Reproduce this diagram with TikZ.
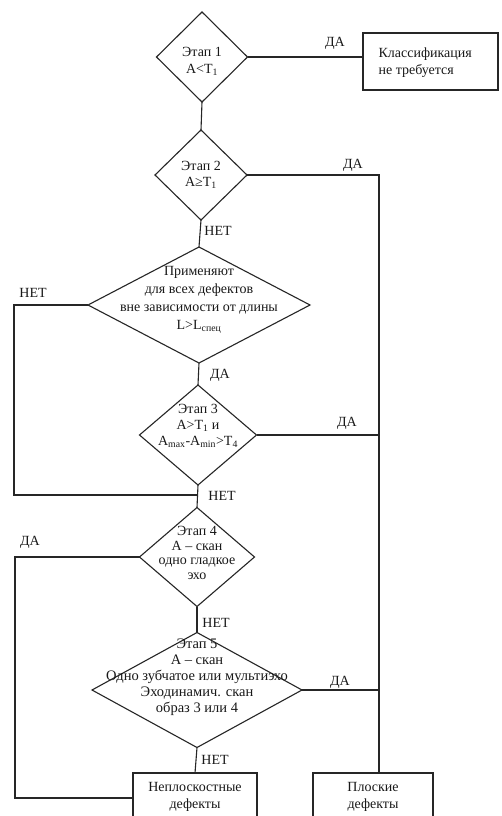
\documentclass[tikz,border=0pt]{standalone}
\usepackage{fontspec}
\setmainfont{Liberation Serif}
\usetikzlibrary{shapes.geometric}
\begin{document}
\begin{tikzpicture}[x=1pt,y=-1pt, line width=1.1pt, draw=black!85,
  dia/.style={draw, shape=diamond, inner sep=0pt, outer sep=0pt},
  box/.style={draw, rectangle, inner sep=0pt, outer sep=0pt},
  txt/.style={align=center, font=\fontsize{14}{16}\selectfont, inner sep=0pt, text=black!90},
  lbl/.style={font=\fontsize{14}{16}\selectfont, inner sep=0pt, text=black!90}]
\fill[white] (0,0) rectangle (501,816);
\clip (0,0) rectangle (501,816);
% decision diamonds
\node[dia, minimum width=91pt, minimum height=90pt] (d1) at (202,57) {};
\node[dia, minimum width=92pt, minimum height=90pt] (d2) at (201,175) {};
\node[dia, minimum width=222pt, minimum height=116pt] (d3) at (199,305) {};
\node[dia, minimum width=117pt, minimum height=100pt] (d4) at (198,435) {};
\node[dia, minimum width=115pt, minimum height=99pt] (d5) at (197,557) {};
\node[dia, minimum width=210pt, minimum height=115pt] (d6) at (197,690) {};
% boxes
\node[box, minimum width=135pt, minimum height=57pt] (b1) at (430.5,61.5) {};
\node[box, minimum width=124pt, minimum height=70pt] (bn) at (195,808) {};
\node[box, minimum width=120pt, minimum height=70pt] (bp) at (373,808) {};
% texts
\node[txt, font=\fontsize{14}{17}\selectfont] (t1) at (202,61) {Этап 1\\A<T\textsubscript{1}};
\node[txt, font=\fontsize{14}{16}\selectfont] (t2) at (201,175) {Этап 2\\A≥T\textsubscript{1}};
\node[txt, font=\fontsize{14}{18}\selectfont] (t3) at (199,300) {Применяют\\для всех дефектов\\вне зависимости от длины\\L>L\textsubscript{спец}};
\node[txt, font=\fontsize{14}{16}\selectfont] (t4) at (198,426) {Этап 3\\A>T\textsubscript{1} и\\A\textsubscript{max}-A\textsubscript{min}>T\textsubscript{4}};
\node[txt, font=\fontsize{14}{14.5}\selectfont] (t5) at (197,553) {Этап 4\\A – скан\\одно гладкое\\эхо};
\node[txt, font=\fontsize{14.5}{16}\selectfont] (t6) at (197,677) {Этап 5\\A – скан\\Одно зубчатое или мультиэхо\\Эходинамич. скан\\образ 3 или 4};
\node[txt, align=left, anchor=west, font=\fontsize{14}{17}\selectfont] (tb1) at (378,63) {Классификация\\не требуется};
\node[txt, font=\fontsize{14}{17}\selectfont] (tbn) at (195,797) {Неплоскостные\\дефекты};
\node[txt, font=\fontsize{14}{17}\selectfont] (tbp) at (373,797) {Плоские\\дефекты};
% junction coordinates
\coordinate (rc) at (379,175);
\coordinate (l1) at (14,305);
\coordinate (l2) at (14,495);
\coordinate (j1) at (198,495);
\coordinate (l3) at (15,557);
\coordinate (l4) at (15,798);
% connectors
\draw (d1.east) -- (d1.east -| b1.west);
\draw (d1.south) -- (d2.north);
\draw (d2.east) -- (rc) -- (rc |- bp.north);
\draw (d2.south) -- (d3.north);
\draw (d3.west) -- (l1) -- (l2) -- (j1);
\draw (d3.south) -- (d4.north);
\draw (d4.east) -- (d4.east -| rc);
\draw (d4.south) -- (d5.north);
\draw (d5.west) -- (l3) -- (l4) -- (l4 -| bn.west);
\draw (d5.south) -- (d6.north);
\draw (d6.east) -- (d6.east -| rc);
\draw (d6.south) -- (bn.north);
% labels
\node[lbl] (y1) at (335,43) {ДА};
\node[lbl] (y2) at (353,165) {ДА};
\node[lbl] (n2) at (218,231) {НЕТ};
\node[lbl] (n3) at (33,293) {НЕТ};
\node[lbl] (y3) at (220,375) {ДА};
\node[lbl] (y4) at (347,423) {ДА};
\node[lbl] (n4) at (222,496) {НЕТ};
\node[lbl] (y5) at (30,542) {ДА};
\node[lbl] (n5) at (216,623) {НЕТ};
\node[lbl] (y6) at (340,682) {ДА};
\node[lbl] (n6) at (215,760) {НЕТ};
\end{tikzpicture}
\end{document}
